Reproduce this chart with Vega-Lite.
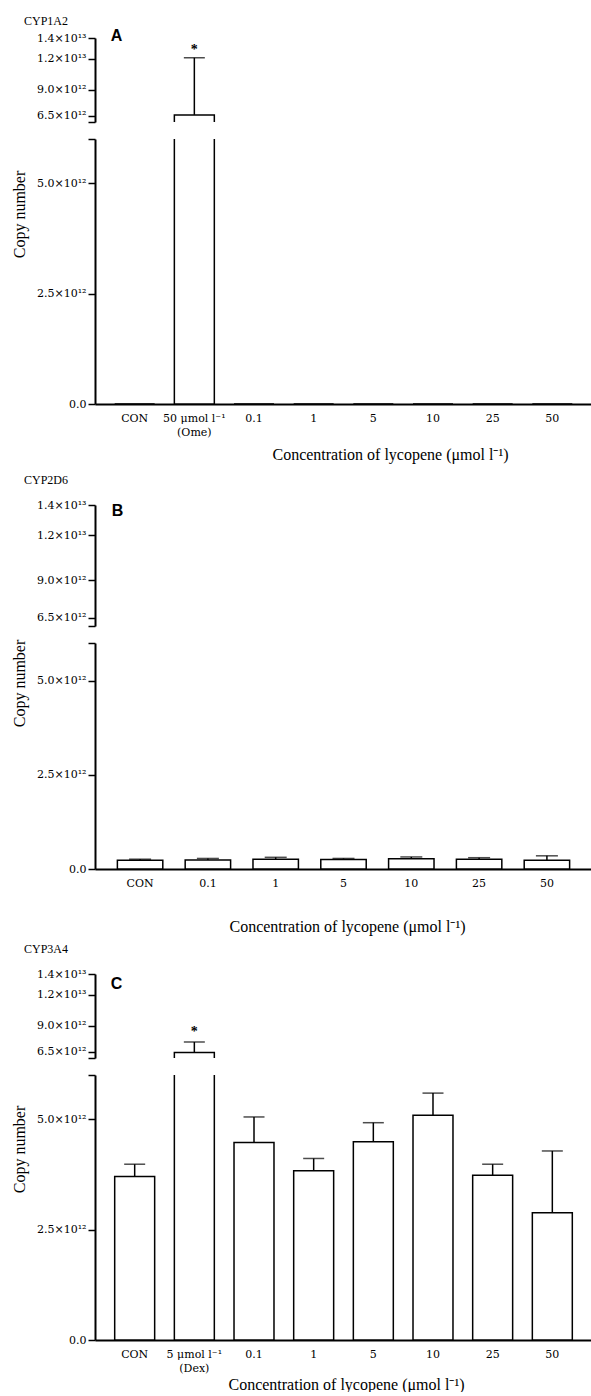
{
  "$schema": "https://vega.github.io/schema/vega-lite/v6.json",
  "autosize": {"type": "pad"},
  "padding": {"left": 10, "top": 15, "right": 0, "bottom": 0},
  "background": "white",
  "datasets": {
    "A": [
      {"cat": "CON", "value": 0, "err": null, "sig": ""},
      {"cat": "50 μmol l⁻¹|(Ome)", "value": 6600000000000, "err": 12100000000000, "sig": "*"},
      {"cat": "0.1", "value": 0, "err": null, "sig": ""},
      {"cat": "1", "value": 0, "err": null, "sig": ""},
      {"cat": "5", "value": 0, "err": null, "sig": ""},
      {"cat": "10", "value": 0, "err": null, "sig": ""},
      {"cat": "25", "value": 0, "err": null, "sig": ""},
      {"cat": "50", "value": 0, "err": null, "sig": ""}
    ],
    "B": [
      {"cat": "CON", "value": 230000000000, "err": 260000000000, "sig": ""},
      {"cat": "0.1", "value": 240000000000, "err": 280000000000, "sig": ""},
      {"cat": "1", "value": 260000000000, "err": 310000000000, "sig": ""},
      {"cat": "5", "value": 250000000000, "err": 280000000000, "sig": ""},
      {"cat": "10", "value": 270000000000, "err": 320000000000, "sig": ""},
      {"cat": "25", "value": 260000000000, "err": 300000000000, "sig": ""},
      {"cat": "50", "value": 230000000000, "err": 350000000000, "sig": ""}
    ],
    "C": [
      {"cat": "CON", "value": 3700000000000, "err": 3980000000000, "sig": ""},
      {"cat": "5 μmol l⁻¹|(Dex)", "value": 6450000000000, "err": 7460000000000, "sig": "*"},
      {"cat": "0.1", "value": 4470000000000, "err": 5050000000000, "sig": ""},
      {"cat": "1", "value": 3830000000000, "err": 4110000000000, "sig": ""},
      {"cat": "5", "value": 4490000000000, "err": 4920000000000, "sig": ""},
      {"cat": "10", "value": 5090000000000, "err": 5590000000000, "sig": ""},
      {"cat": "25", "value": 3730000000000, "err": 3980000000000, "sig": ""},
      {"cat": "50", "value": 2880000000000, "err": 4280000000000, "sig": ""}
    ]
  },
  "vconcat": [
    {
      "data": {"name": "A"},
      "width": 497,
      "height": 84,
      "title": {"text": "CYP1A2", "dx": -71, "offset": -1},
      "encoding": {
        "x": {"field": "cat", "type": "nominal", "sort": null,
          "scale": {"paddingInner": 0.33, "paddingOuter": 0.33},
          "axis": {"orient": "top", "title": "A", "labels": false, "ticks": false, "domain": false,
            "titleX": 21, "titleY": -3, "titleAlign": "center", "titleBaseline": "middle", "titleAngle": 0,
            "titleFont": "Liberation Sans", "titleFontSize": 16, "titleFontWeight": "bold"}},
        "y": {"field": "value", "type": "quantitative",
          "scale": {"domain": [5920000000000, 14000000000000], "nice": false, "zero": false},
          "axis": {"title": null, "values": [5920000000000, 6500000000000, 9000000000000, 12000000000000, 14000000000000], "labelOverlap": false,
            "labelExpr": "datum.value == 6500000000000 ? '6.5×10¹²' : datum.value == 9000000000000 ? '9.0×10¹²' : datum.value == 12000000000000 ? '1.2×10¹³' : datum.value == 14000000000000 ? '1.4×10¹³' : ''"}}
      },
      "layer": [
        {"mark": {"type": "bar", "fill": "white", "stroke": "black", "strokeWidth": 1.5, "clip": true},
          "encoding": {"y2": {"datum": 0}}},
        {"transform": [{"filter": "datum.err != null"}],
          "mark": {"type": "rule", "color": "black", "strokeWidth": 1.5, "clip": true},
          "encoding": {"y2": {"field": "err"}}},
        {"transform": [{"filter": "datum.err != null"}],
          "mark": {"type": "tick", "color": "black", "thickness": 1.5, "size": 21, "clip": true},
          "encoding": {"y": {"field": "err", "type": "quantitative"}}},
        {"transform": [{"filter": "datum.sig != ''"}],
          "mark": {"type": "text", "font": "Liberation Serif", "fontSize": 14, "fontWeight": "bold", "baseline": "middle", "dy": -8, "color": "black"},
          "encoding": {"y": {"field": "err", "type": "quantitative"}, "text": {"field": "sig"}}}
      ]
    },
    {
      "data": {"name": "A"},
      "width": 497,
      "height": 265,
      "encoding": {
        "x": {"field": "cat", "type": "nominal", "sort": null,
          "scale": {"paddingInner": 0.33, "paddingOuter": 0.33},
          "axis": {"title": "Concentration of lycopene (μmol l⁻¹)", "titleX": 295, "titleY": 50, "titleAlign": "center", "titleBaseline": "middle",
            "labelExpr": "split(datum.label, '|')", "labelAngle": 0, "ticks": false, "tickSize": 0, "labelPadding": 8, "labelLineHeight": 14, "labelOverlap": false, "labelBaseline": "top"}},
        "y": {"field": "value", "type": "quantitative",
          "scale": {"domain": [0, 6000000000000], "nice": false, "zero": true},
          "axis": {"title": "Copy number", "titleX": -76, "titleY": 75, "titleAngle": -90, "titleAlign": "center", "titleBaseline": "middle",
            "values": [0, 2500000000000, 5000000000000, 6000000000000], "labelOverlap": false,
            "labelExpr": "datum.value == 0 ? '0.0' : datum.value == 2500000000000 ? '2.5×10¹²' : datum.value == 5000000000000 ? '5.0×10¹²' : ''"}}
      },
      "layer": [
        {"mark": {"type": "bar", "fill": "white", "stroke": "black", "strokeWidth": 1.5, "clip": true},
          "encoding": {"y2": {"datum": 0}}},
        {"transform": [{"filter": "datum.err != null"}],
          "mark": {"type": "rule", "color": "black", "strokeWidth": 1.5, "clip": true},
          "encoding": {"y2": {"field": "err"}}},
        {"transform": [{"filter": "datum.err != null"}],
          "mark": {"type": "tick", "color": "black", "thickness": 1.5, "size": 21, "clip": true},
          "encoding": {"y": {"field": "err", "type": "quantitative"}}}
      ]
    },
    {
      "data": {"values": []},
      "width": 497,
      "height": 67,
      "mark": "point",
      "encoding": {}
    },
    {
      "data": {"name": "B"},
      "width": 497,
      "height": 121,
      "title": {"text": "CYP2D6", "dx": -71, "offset": 12},
      "encoding": {
        "x": {"field": "cat", "type": "nominal", "sort": null,
          "scale": {"paddingInner": 0.33, "paddingOuter": 0.33},
          "axis": {"orient": "top", "title": "B", "labels": false, "ticks": false, "domain": false,
            "titleX": 22, "titleY": 5, "titleAlign": "center", "titleBaseline": "middle", "titleAngle": 0,
            "titleFont": "Liberation Sans", "titleFontSize": 16, "titleFontWeight": "bold"}},
        "y": {"field": "value", "type": "quantitative",
          "scale": {"domain": [5960000000000, 14000000000000], "nice": false, "zero": false},
          "axis": {"title": null, "values": [5960000000000, 6500000000000, 9000000000000, 12000000000000, 14000000000000], "labelOverlap": false,
            "labelExpr": "datum.value == 6500000000000 ? '6.5×10¹²' : datum.value == 9000000000000 ? '9.0×10¹²' : datum.value == 12000000000000 ? '1.2×10¹³' : datum.value == 14000000000000 ? '1.4×10¹³' : ''"}}
      },
      "layer": [
        {"mark": {"type": "bar", "fill": "white", "stroke": "black", "strokeWidth": 1.5, "clip": true},
          "encoding": {"y2": {"datum": 0}}},
        {"transform": [{"filter": "datum.err != null"}],
          "mark": {"type": "rule", "color": "black", "strokeWidth": 1.5, "clip": true},
          "encoding": {"y2": {"field": "err"}}}
      ]
    },
    {
      "data": {"name": "B"},
      "width": 497,
      "height": 226,
      "encoding": {
        "x": {"field": "cat", "type": "nominal", "sort": null,
          "scale": {"paddingInner": 0.33, "paddingOuter": 0.33},
          "axis": {"title": "Concentration of lycopene (μmol l⁻¹)", "titleX": 252, "titleY": 57, "titleAlign": "center", "titleBaseline": "middle",
            "labelExpr": "split(datum.label, '|')", "labelAngle": 0, "ticks": false, "tickSize": 0, "labelPadding": 8, "labelLineHeight": 14, "labelOverlap": false, "labelBaseline": "top"}},
        "y": {"field": "value", "type": "quantitative",
          "scale": {"domain": [0, 6000000000000], "nice": false, "zero": true},
          "axis": {"title": "Copy number", "titleX": -76, "titleY": 40, "titleAngle": -90, "titleAlign": "center", "titleBaseline": "middle",
            "values": [0, 2500000000000, 5000000000000, 6000000000000], "labelOverlap": false,
            "labelExpr": "datum.value == 0 ? '0.0' : datum.value == 2500000000000 ? '2.5×10¹²' : datum.value == 5000000000000 ? '5.0×10¹²' : ''"}}
      },
      "layer": [
        {"mark": {"type": "bar", "fill": "white", "stroke": "black", "strokeWidth": 1.5, "clip": true},
          "encoding": {"y2": {"datum": 0}}},
        {"transform": [{"filter": "datum.err != null"}],
          "mark": {"type": "rule", "color": "black", "strokeWidth": 1.5, "clip": true},
          "encoding": {"y2": {"field": "err"}}},
        {"transform": [{"filter": "datum.err != null"}],
          "mark": {"type": "tick", "color": "black", "thickness": 1.5, "size": 22, "clip": true},
          "encoding": {"y": {"field": "err", "type": "quantitative"}}}
      ]
    },
    {
      "data": {"values": []},
      "width": 497,
      "height": 71,
      "mark": "point",
      "encoding": {}
    },
    {
      "data": {"name": "C"},
      "width": 497,
      "height": 84,
      "title": {"text": "CYP3A4", "dx": -71, "offset": 12},
      "encoding": {
        "x": {"field": "cat", "type": "nominal", "sort": null,
          "scale": {"paddingInner": 0.33, "paddingOuter": 0.33},
          "axis": {"orient": "top", "title": "C", "labels": false, "ticks": false, "domain": false,
            "titleX": 21, "titleY": 9, "titleAlign": "center", "titleBaseline": "middle", "titleAngle": 0,
            "titleFont": "Liberation Sans", "titleFontSize": 16, "titleFontWeight": "bold"}},
        "y": {"field": "value", "type": "quantitative",
          "scale": {"domain": [5920000000000, 14000000000000], "nice": false, "zero": false},
          "axis": {"title": null, "values": [5920000000000, 6500000000000, 9000000000000, 12000000000000, 14000000000000], "labelOverlap": false,
            "labelExpr": "datum.value == 6500000000000 ? '6.5×10¹²' : datum.value == 9000000000000 ? '9.0×10¹²' : datum.value == 12000000000000 ? '1.2×10¹³' : datum.value == 14000000000000 ? '1.4×10¹³' : ''"}}
      },
      "layer": [
        {"mark": {"type": "bar", "fill": "white", "stroke": "black", "strokeWidth": 1.5, "clip": true},
          "encoding": {"y2": {"datum": 0}}},
        {"transform": [{"filter": "datum.err != null"}],
          "mark": {"type": "rule", "color": "black", "strokeWidth": 1.5, "clip": true},
          "encoding": {"y2": {"field": "err"}}},
        {"transform": [{"filter": "datum.err != null"}],
          "mark": {"type": "tick", "color": "black", "thickness": 1.5, "size": 21, "clip": true},
          "encoding": {"y": {"field": "err", "type": "quantitative"}}},
        {"transform": [{"filter": "datum.sig != ''"}],
          "mark": {"type": "text", "font": "Liberation Serif", "fontSize": 14, "fontWeight": "bold", "baseline": "middle", "dy": -10, "color": "black"},
          "encoding": {"y": {"field": "err", "type": "quantitative"}, "text": {"field": "sig"}}}
      ]
    },
    {
      "data": {"name": "C"},
      "width": 497,
      "height": 265,
      "encoding": {
        "x": {"field": "cat", "type": "nominal", "sort": null,
          "scale": {"paddingInner": 0.33, "paddingOuter": 0.33},
          "axis": {"title": "Concentration of lycopene (μmol l⁻¹)", "titleX": 251, "titleY": 44, "titleAlign": "center", "titleBaseline": "middle",
            "labelExpr": "split(datum.label, '|')", "labelAngle": 0, "ticks": false, "tickSize": 0, "labelPadding": 8, "labelLineHeight": 14, "labelOverlap": false, "labelBaseline": "top"}},
        "y": {"field": "value", "type": "quantitative",
          "scale": {"domain": [0, 6000000000000], "nice": false, "zero": true},
          "axis": {"title": "Copy number", "titleX": -76, "titleY": 74, "titleAngle": -90, "titleAlign": "center", "titleBaseline": "middle",
            "values": [0, 2500000000000, 5000000000000, 6000000000000], "labelOverlap": false,
            "labelExpr": "datum.value == 0 ? '0.0' : datum.value == 2500000000000 ? '2.5×10¹²' : datum.value == 5000000000000 ? '5.0×10¹²' : ''"}}
      },
      "layer": [
        {"mark": {"type": "bar", "fill": "white", "stroke": "black", "strokeWidth": 1.5, "clip": true},
          "encoding": {"y2": {"datum": 0}}},
        {"transform": [{"filter": "datum.err != null"}],
          "mark": {"type": "rule", "color": "black", "strokeWidth": 1.5, "clip": true},
          "encoding": {"y2": {"field": "err"}}},
        {"transform": [{"filter": "datum.err != null"}],
          "mark": {"type": "tick", "color": "black", "thickness": 1.5, "size": 21, "clip": true},
          "encoding": {"y": {"field": "err", "type": "quantitative"}}}
      ]
    }
  ],
  "spacing": 17,
  "bounds": "flush",
  "config": {
    "view": {"stroke": null},
    "font": "Liberation Serif",
    "axis": {"domainColor": "black", "domainWidth": 2, "tickColor": "black", "tickWidth": 1.5, "tickSize": 7,
      "labelFont": "DejaVu Serif", "labelFontSize": 11, "labelColor": "black", "labelPadding": 2,
      "titleFont": "Liberation Serif", "titleFontSize": 16, "titleFontWeight": "normal", "titleColor": "black", "grid": false},
    "title": {"font": "Liberation Serif", "fontSize": 12, "fontWeight": "normal", "color": "black", "anchor": "start", "frame": "group"}
  }
}
